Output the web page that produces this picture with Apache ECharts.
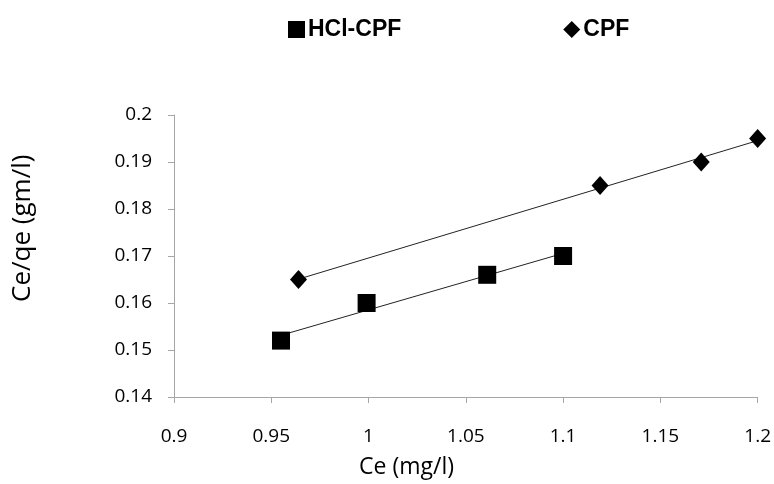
<!DOCTYPE html>
<html>
<head>
<meta charset="utf-8">
<script src="https://cdn.jsdelivr.net/npm/echarts@6/dist/echarts.min.js"></script>
<style>
  html, body { margin: 0; padding: 0; background: #fff; }
  #chart { width: 774px; height: 484px; }
</style>
</head>
<body>
<div id="chart"></div>
<script>
// values
const hclCe = [0.955, 0.999, 1.061, 1.100];
const hclCeQe = [0.152, 0.160, 0.166, 0.170];
const cpfCe = [0.964, 1.119, 1.171, 1.200];
const cpfCeQe = [0.165, 0.185, 0.190, 0.195];

// linear trend line (least squares) between first and last point
function trend(xs, ys) {
  const n = xs.length;
  const mx = xs.reduce((a, b) => a + b, 0) / n;
  const my = ys.reduce((a, b) => a + b, 0) / n;
  let sxy = 0, sxx = 0;
  for (let i = 0; i < n; i++) {
    sxy += (xs[i] - mx) * (ys[i] - my);
    sxx += (xs[i] - mx) * (xs[i] - mx);
  }
  const k = sxy / sxx, b = my - k * mx;
  const x0 = Math.min(...xs), x1 = Math.max(...xs);
  return [[x0, k * x0 + b], [x1, k * x1 + b]];
}

const pairs = (xs, ys) => xs.map((x, i) => [x, ys[i]]);
const labelFont = "'Open Sans', sans-serif";

const chart = echarts.init(document.getElementById("chart"));
chart.setOption({
  animation: false,
  grid: { left: 174, right: 15, top: 115, bottom: 87 },
  legend: {
    left: 283,
    top: 13,
    itemWidth: 17,
    itemHeight: 17,
    itemGap: 162,
    itemStyle: { opacity: 1 },
    textStyle: {
      fontFamily: "'Liberation Sans', Arial, sans-serif",
      fontWeight: "bold",
      fontSize: 23,
      color: "#000",
      padding: [0, 0, 0, -2],
    },
    data: [
      { name: "HCl-CPF", icon: "rect" },
      { name: "CPF", icon: "diamond" },
    ],
  },
  xAxis: {
    type: "value",
    min: 0.9,
    max: 1.2,
    interval: 0.05,
    splitLine: { show: false },
    axisLine: { lineStyle: { color: "#a6a6a6", width: 1 } },
    axisTick: { show: true, length: 6, lineStyle: { color: "#a6a6a6" } },
    axisLabel: {
      margin: 30,
      fontFamily: labelFont,
      fontSize: 19,
      color: "#000",
    },
  },
  yAxis: {
    type: "value",
    min: 0.14,
    max: 0.2,
    interval: 0.01,
    splitLine: { show: false },
    axisLine: { show: true, lineStyle: { color: "#a6a6a6", width: 1 } },
    axisTick: { show: true, length: 6, lineStyle: { color: "#a6a6a6" } },
    axisLabel: {
      margin: 22,
      fontFamily: labelFont,
      fontSize: 19,
      color: "#000",
    },
  },
  graphic: [
    {
      type: "text",
      left: 359,
      top: 456,
      style: {
        text: "Ce (mg/l)",
        font: "23px 'Open Sans', sans-serif",
        fill: "#000",
      },
    },
    {
      type: "text",
      x: 10,
      y: 302,
      rotation: Math.PI / 2,
      style: {
        text: "Ce/qe (gm/l)",
        font: "26px 'Open Sans', sans-serif",
        fill: "#000",
        textAlign: "left",
        textVerticalAlign: "top",
      },
    },
  ],
  series: [
    {
      name: "HCl-CPF trend",
      type: "line",
      data: trend(hclCe, hclCeQe),
      symbol: "none",
      lineStyle: { color: "#222", width: 1 },
      silent: true,
      z: 1,
    },
    {
      name: "CPF trend",
      type: "line",
      data: trend(cpfCe, cpfCeQe),
      symbol: "none",
      lineStyle: { color: "#222", width: 1 },
      silent: true,
      z: 1,
    },
    {
      name: "HCl-CPF",
      type: "scatter",
      data: pairs(hclCe, hclCeQe),
      symbol: "rect",
      symbolSize: 18,
      itemStyle: { color: "#000", opacity: 1 },
      z: 3,
    },
    {
      name: "CPF",
      type: "scatter",
      data: pairs(cpfCe, cpfCeQe),
      symbol: "diamond",
      symbolSize: [17, 19],
      itemStyle: { color: "#000", opacity: 1 },
      z: 3,
    },
  ],
});
</script>
</body>
</html>
